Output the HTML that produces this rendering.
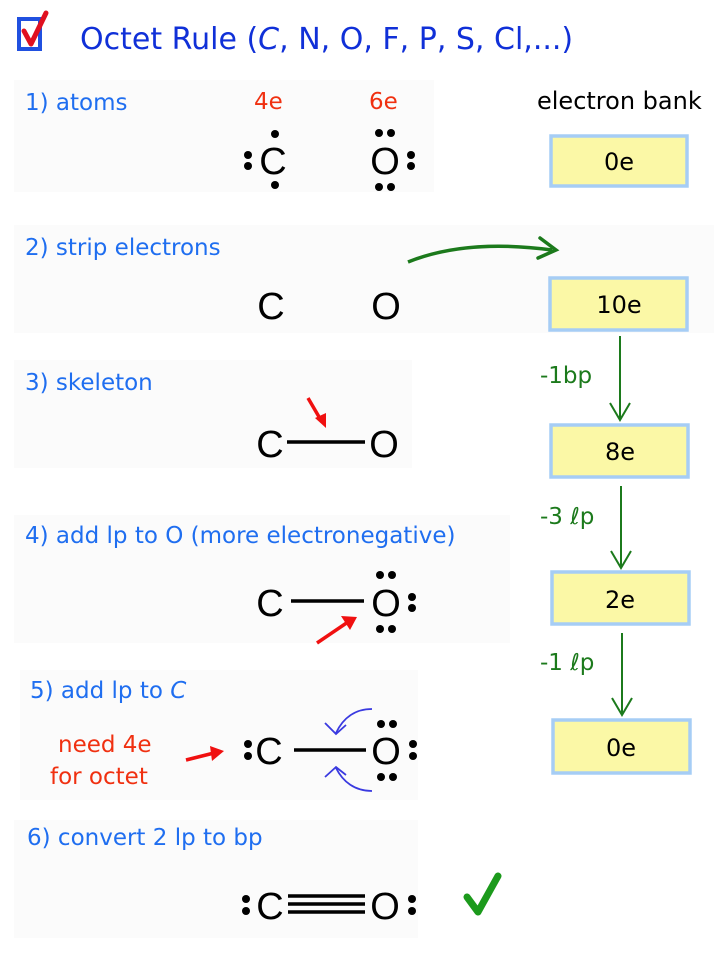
<!DOCTYPE html>
<html><head><meta charset="utf-8"><style>
html,body{margin:0;padding:0;background:#fff;}
svg{display:block;}
.lab{font-family:"DejaVu Sans","Liberation Sans",sans-serif;fill:#1f6ef0;font-size:23px;}
.atom{font-family:"Liberation Sans",sans-serif;font-size:38px;fill:#000;text-anchor:middle;}
.box{fill:#fbf8a6;stroke:#a6cdf5;stroke-width:3.5;}
.bt{font-family:"DejaVu Sans","Liberation Sans",sans-serif;font-size:24px;fill:#000;text-anchor:middle;}
.gr{font-family:"DejaVu Sans","Liberation Sans",sans-serif;font-size:23px;fill:#1c7a1c;}
.red{font-family:"DejaVu Sans","Liberation Sans",sans-serif;fill:#f03010;font-size:23px;}
</style></head><body>
<svg width="720" height="960" viewBox="0 0 720 960" xmlns="http://www.w3.org/2000/svg">
<g fill="#fbfbfb">
<rect x="14" y="80" width="420" height="112"/>
<rect x="14" y="225" width="700" height="108"/>
<rect x="14" y="360" width="398" height="108"/>
<rect x="14" y="515" width="496" height="128"/>
<rect x="20" y="670" width="398" height="130"/>
<rect x="14" y="820" width="404" height="118"/>
</g>
<rect x="19" y="19" width="21" height="30" fill="none" stroke="#2050e0" stroke-width="4"/>
<path d="M24 31 L31 44 L46 13" fill="none" stroke="#e01020" stroke-width="5" stroke-linecap="round" stroke-linejoin="round"/>
<text x="80" y="49" font-family="DejaVu Sans, Liberation Sans, sans-serif" font-size="30" fill="#1030d8">Octet Rule (<tspan font-style="italic">C</tspan>, N, O, F, P, S, Cl,...)</text>

<text class="lab" x="25" y="110">1) atoms</text>
<text class="red" x="254" y="109">4e</text>
<text class="red" x="369" y="109">6e</text>
<text x="537" y="109" font-family="DejaVu Sans, Liberation Sans, sans-serif" font-size="24" fill="#000">electron bank</text>
<text class="atom" x="273" y="174">C</text>
<text class="atom" x="385" y="174">O</text>
<g fill="#000">
<circle cx="248" cy="155" r="4"/><circle cx="248" cy="166" r="4"/>
<circle cx="275" cy="134" r="4"/><circle cx="275" cy="185" r="4"/>
<circle cx="379" cy="133" r="4"/><circle cx="391" cy="133" r="4"/>
<circle cx="379" cy="187" r="4"/><circle cx="391" cy="187" r="4"/>
<circle cx="411" cy="155" r="4"/><circle cx="411" cy="166" r="4"/>
</g>
<rect class="box" x="551" y="136" width="136" height="50"/>
<text class="bt" x="619" y="170">0e</text>

<text class="lab" x="25" y="255">2) strip electrons</text>
<text class="atom" x="271" y="319">C</text>
<text class="atom" x="386" y="319">O</text>
<path d="M408 262 C450 245 500 243 552 250" fill="none" stroke="#1c7a1c" stroke-width="3.5"/>
<path d="M540 238 L556 250 L538 258" fill="none" stroke="#1c7a1c" stroke-width="3.5" stroke-linecap="round"/>
<rect class="box" x="550" y="278" width="137" height="52"/>
<text class="bt" x="619" y="313">10e</text>

<text class="lab" x="25" y="390">3) skeleton</text>
<text class="atom" x="270" y="457">C</text>
<line x1="287" y1="442" x2="365" y2="442" stroke="#000" stroke-width="3.5"/>
<text class="atom" x="384" y="457">O</text>
<path d="M308 398 L322 422" stroke="#f01010" stroke-width="3.5"/>
<path d="M315 418 L326 428 L326 413 Z" fill="#f01010"/>
<path d="M620 336 L620 418" stroke="#1c7a1c" stroke-width="2"/>
<path d="M610 403 L620 420 L630 403" fill="none" stroke="#1c7a1c" stroke-width="2"/>
<text class="gr" x="540" y="383">-1bp</text>
<rect class="box" x="551" y="425" width="137" height="52"/>
<text class="bt" x="620" y="460">8e</text>

<text class="lab" x="25" y="543">4) add lp to O (more electronegative)</text>
<text class="atom" x="270" y="616">C</text>
<line x1="291" y1="601" x2="364" y2="601" stroke="#000" stroke-width="3.5"/>
<text class="atom" x="386" y="616">O</text>
<g fill="#000">
<circle cx="380" cy="575" r="4"/><circle cx="392" cy="575" r="4"/>
<circle cx="380" cy="629" r="4"/><circle cx="392" cy="629" r="4"/>
<circle cx="412" cy="597" r="4"/><circle cx="412" cy="608" r="4"/>
</g>
<path d="M317 643 L348 622" stroke="#f01010" stroke-width="3.5"/>
<path d="M341 616 L357 617 L350 630 Z" fill="#f01010"/>
<path d="M621 486 L621 566" stroke="#1c7a1c" stroke-width="2"/>
<path d="M611 551 L621 568 L631 551" fill="none" stroke="#1c7a1c" stroke-width="2"/>
<text class="gr" x="540" y="524">-3 ℓp</text>
<rect class="box" x="552" y="572" width="137" height="52"/>
<text class="bt" x="620" y="608">2e</text>

<text class="lab" x="30" y="698">5) add lp to <tspan font-style="italic">C</tspan></text>
<text class="red" x="58" y="752">need 4e</text>
<text class="red" x="50" y="784">for octet</text>
<path d="M186 760 L214 753" stroke="#f01010" stroke-width="3.5"/>
<path d="M210 746 L224 751 L212 761 Z" fill="#f01010"/>
<text class="atom" x="269" y="764">C</text>
<line x1="294" y1="750" x2="366" y2="750" stroke="#000" stroke-width="3.5"/>
<text class="atom" x="386" y="764">O</text>
<g fill="#000">
<circle cx="248" cy="744" r="4"/><circle cx="248" cy="756" r="4"/>
<circle cx="381" cy="724" r="4"/><circle cx="393" cy="724" r="4"/>
<circle cx="381" cy="777" r="4"/><circle cx="393" cy="777" r="4"/>
<circle cx="413" cy="744" r="4"/><circle cx="413" cy="756" r="4"/>
</g>
<g fill="none" stroke="#3a3ae0" stroke-width="1.8">
<path d="M372 709 C355 709 343 718 336 733"/>
<path d="M325 723 L336 734 L346 725"/>
<path d="M372 791 C355 791 343 782 336 768"/>
<path d="M325 777 L336 767 L346 775"/>
</g>
<path d="M622 633 L622 713" stroke="#1c7a1c" stroke-width="2"/>
<path d="M612 698 L622 715 L632 698" fill="none" stroke="#1c7a1c" stroke-width="2"/>
<text class="gr" x="540" y="670">-1 ℓp</text>
<rect class="box" x="553" y="720" width="137" height="53"/>
<text class="bt" x="621" y="756">0e</text>

<text class="lab" x="27" y="845">6) convert 2 lp to bp</text>
<text class="atom" x="270" y="919">C</text>
<g stroke="#000" stroke-width="3.5">
<line x1="288" y1="896" x2="365" y2="896"/>
<line x1="288" y1="904" x2="365" y2="904"/>
<line x1="288" y1="912" x2="365" y2="912"/>
</g>
<text class="atom" x="385" y="919">O</text>
<g fill="#000">
<circle cx="246" cy="899" r="4"/><circle cx="246" cy="911" r="4"/>
<circle cx="412" cy="899" r="4"/><circle cx="412" cy="911" r="4"/>
</g>
<path d="M467 897 L478 912 L498 876" fill="none" stroke="#1c9a1c" stroke-width="7" stroke-linecap="round" stroke-linejoin="round"/>
</svg>
</body></html>
